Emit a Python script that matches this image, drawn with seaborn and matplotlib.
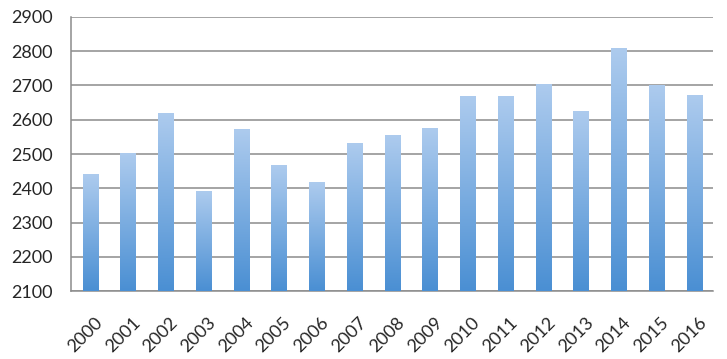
import numpy as np
import pandas as pd
import seaborn as sns
import matplotlib
matplotlib.use("Agg")
import matplotlib.pyplot as plt
import matplotlib.transforms as mtransforms
from matplotlib.colors import LinearSegmentedColormap

years = [str(y) for y in range(2000, 2017)]
values = [2439, 2500, 2618, 2389, 2570, 2465, 2416, 2529, 2553, 2573,
          2668, 2667, 2703, 2623, 2806, 2698, 2670]

df = pd.DataFrame({"year": years, "value": values})

sns.set_style("white")
plt.rcParams['font.family'] = ['Lato', 'DejaVu Sans']

fig = plt.figure(figsize=(7.27, 3.59), dpi=100)
ax = fig.add_axes([0.098, 0.189, 0.883, 0.764])

sns.barplot(data=df, x="year", y="value", color="#6fa6de", width=0.4, ax=ax, zorder=2)

# gradient fill on each bar
cmap = LinearSegmentedColormap.from_list("grad", ["#4a8fd3", "#adcbee"])
grad = np.linspace(0, 1, 256).reshape(-1, 1)
for bar in ax.patches:
    x0, w = bar.get_x(), bar.get_width()
    top = bar.get_y() + bar.get_height()
    bar.set_visible(False)
    ax.imshow(grad, cmap=cmap, origin="lower", aspect="auto",
              extent=[x0, x0 + w, 2100, top], zorder=3)

ax.set_xlim(-0.5, len(years) - 0.5)
ax.set_ylim(2100, 2900)
ax.set_yticks(range(2100, 3000, 100))
ax.yaxis.grid(True, color="#8c8c8c", linewidth=1.1, zorder=1)
ax.set_axisbelow(True)

for s in ["top", "right"]:
    ax.spines[s].set_visible(False)
for s in ["left", "bottom"]:
    ax.spines[s].set_color("#8c8c8c")
    ax.spines[s].set_linewidth(1.1)

ax.set_xticks(np.arange(-0.5, len(years), 1.0), minor=True)
ax.tick_params(axis="x", which="minor", length=5, color="#8c8c8c", width=1.1, direction="out")
ax.tick_params(axis="x", which="major", length=0, pad=17)
ax.tick_params(axis="y", length=5, color="#8c8c8c", width=1.1, direction="out", pad=8)
ax.set_xticks(range(len(years)))
ax.set_xticklabels(years, rotation=45, ha="right", rotation_mode="anchor", fontsize=13)
shift = mtransforms.ScaledTranslation(4 / 100, 0, fig.dpi_scale_trans)
for lab in ax.get_xticklabels():
    lab.set_transform(lab.get_transform() + shift)
for lab in ax.get_yticklabels():
    lab.set_fontsize(13)

ax.set_xlabel("")
ax.set_ylabel("")

fig.savefig("out.png", dpi=100)
